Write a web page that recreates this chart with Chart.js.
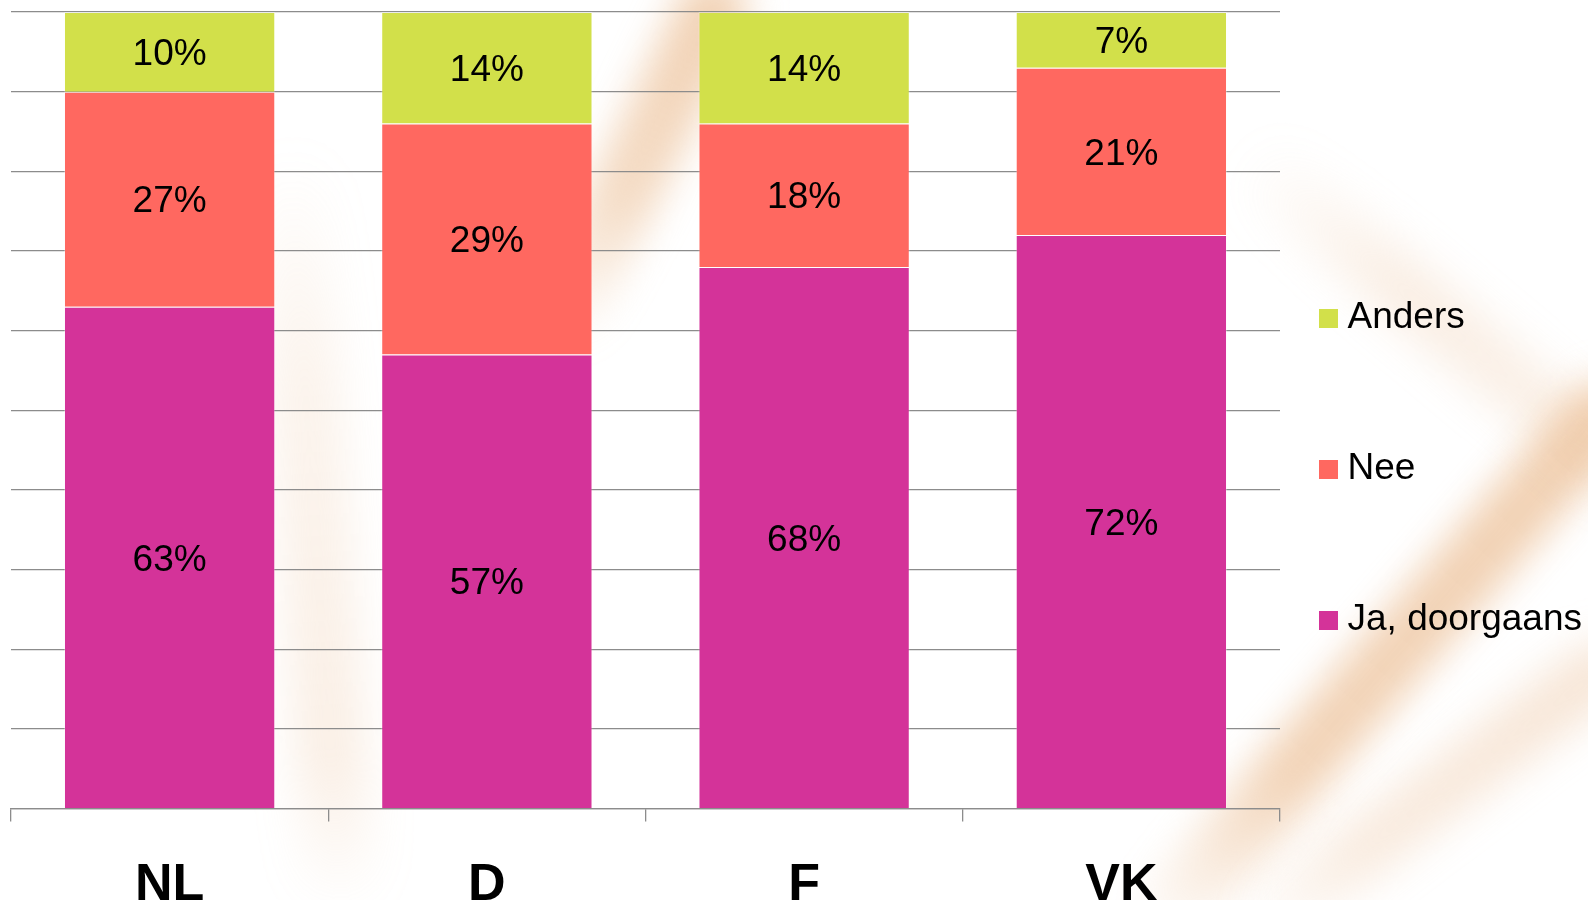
<!DOCTYPE html>
<html>
<head>
<meta charset="utf-8">
<script src="https://cdn.jsdelivr.net/npm/chart.js"></script>
<style>
  html, body { margin: 0; padding: 0; width: 1588px; height: 900px; overflow: hidden; background: #fff; }
  .swoosh { position: absolute; border-radius: 40px; }
  #wrap { position: absolute; left: 0; top: 0; width: 1588px; height: 950px; }
</style>
</head>
<body>
<!-- soft peach background strokes -->
<div class="swoosh" style="left:605px;top:-40px;width:70px;height:400px;transform:rotate(26deg);filter:blur(18px);background:linear-gradient(to bottom,rgba(232,178,128,.6),rgba(232,178,128,.45) 60%,transparent)"></div>
<div class="swoosh" style="left:280px;top:150px;width:70px;height:760px;transform:rotate(-4deg);filter:blur(22px);background:linear-gradient(to bottom,transparent,rgba(235,190,150,.18) 30%,rgba(235,190,150,.25) 80%,transparent)"></div>
<div class="swoosh" style="left:1350px;top:300px;width:70px;height:730px;transform:rotate(41deg);filter:blur(18px);background:linear-gradient(to bottom,rgba(232,178,128,.6),rgba(232,178,128,.55) 70%,transparent)"></div>
<div class="swoosh" style="left:1405px;top:560px;width:60px;height:470px;transform:rotate(53deg);filter:blur(20px);background:linear-gradient(to bottom,rgba(235,190,150,.4),rgba(235,190,150,.3) 70%,transparent)"></div>
<div class="swoosh" style="left:1410px;top:70px;width:60px;height:500px;transform:rotate(-50deg);filter:blur(22px);background:linear-gradient(to bottom,transparent,rgba(235,190,150,.28) 40%,rgba(235,190,150,.2))"></div>
<div id="wrap"><canvas id="chart"></canvas></div>
<script>
const categories = ['NL', 'D', 'F', 'VK'];
const jaDoorgaans = [63, 57, 68, 72];
const nee = [27, 29, 18, 21];
const anders = [10, 14, 14, 7];
const seriesNames = ['Ja, doorgaans', 'Nee', 'Anders'];
const seriesColors = ['#d43399', '#ff6860', '#d2e04a'];

const gridGray = '#8c8c8c';

// little square used as legend marker
function swatch(color) {
  const c = document.createElement('canvas');
  c.width = 19;
  c.height = 19;
  const g = c.getContext('2d');
  g.fillStyle = color;
  g.fillRect(0, 0, 19, 19);
  return c;
}
const swatches = seriesColors.map(swatch);

// percentage text in the middle of every bar segment
const barLabels = {
  id: 'barLabels',
  afterDatasetsDraw(chart) {
    const ctx = chart.ctx;
    ctx.save();
    ctx.font = '37px "Liberation Sans", Arial, sans-serif';
    ctx.fillStyle = '#000';
    ctx.textAlign = 'center';
    ctx.textBaseline = 'middle';
    chart.data.datasets.forEach((ds, i) => {
      chart.getDatasetMeta(i).data.forEach((bar, j) => {
        ctx.fillText(ds.data[j] + '%', bar.x, (bar.y + bar.base) / 2 + 3);
      });
    });
    ctx.restore();
  }
};

const ctx = document.getElementById('chart').getContext('2d');
const myChart = new Chart(ctx, {
  type: 'bar',
  data: {
    labels: categories,
    datasets: [
      { label: seriesNames[0], data: jaDoorgaans, backgroundColor: seriesColors[0] },
      { label: seriesNames[1], data: nee, backgroundColor: seriesColors[1] },
      { label: seriesNames[2], data: anders, backgroundColor: seriesColors[2] }
    ]
  },
  options: {
    responsive: true,
    maintainAspectRatio: false,
    animation: false,
    datasets: {
      bar: {
        barPercentage: 0.666,
        categoryPercentage: 1,
        borderWidth: 1,
        borderColor: 'rgba(255,255,255,0.3)'
      }
    },
    layout: { padding: { top: 12, left: 11, right: -4, bottom: 0 } },
    plugins: {
      tooltip: { enabled: false },
      legend: {
        position: 'right',
        align: 'start',
        reverse: true,
        title: { display: true, text: '', padding: { top: 227.5, bottom: 0 }, font: { size: 10 } },
        labels: {
          usePointStyle: true,
          boxWidth: 1,
          padding: 48,
          color: '#000',
          font: { family: '"Liberation Sans", Arial, sans-serif', size: 37, lineHeight: '103px' },
          generateLabels(chart) {
            const items = Chart.defaults.plugins.legend.labels.generateLabels(chart);
            return items.map(it => Object.assign(it, { text: [it.text], pointStyle: swatches[it.datasetIndex] }));
          }
        }
      }
    },
    scales: {
      x: {
        stacked: true,
        grid: { offset: true, drawOnChartArea: false, drawTicks: true, tickLength: 13, color: gridGray, lineWidth: 1.3 },
        border: { display: true, color: gridGray, width: 1.3 },
        ticks: {
          color: '#000',
          padding: 33,
          font: { family: '"Liberation Sans", Arial, sans-serif', weight: 'bold', size: 52, lineHeight: 1.2 }
        }
      },
      y: {
        stacked: true,
        min: 0,
        max: 100,
        ticks: { display: false, stepSize: 10 },
        grid: { color: gridGray, lineWidth: 1.3, drawTicks: false },
        border: { display: false }
      }
    }
  },
  plugins: [barLabels]
});
</script>
</body>
</html>
